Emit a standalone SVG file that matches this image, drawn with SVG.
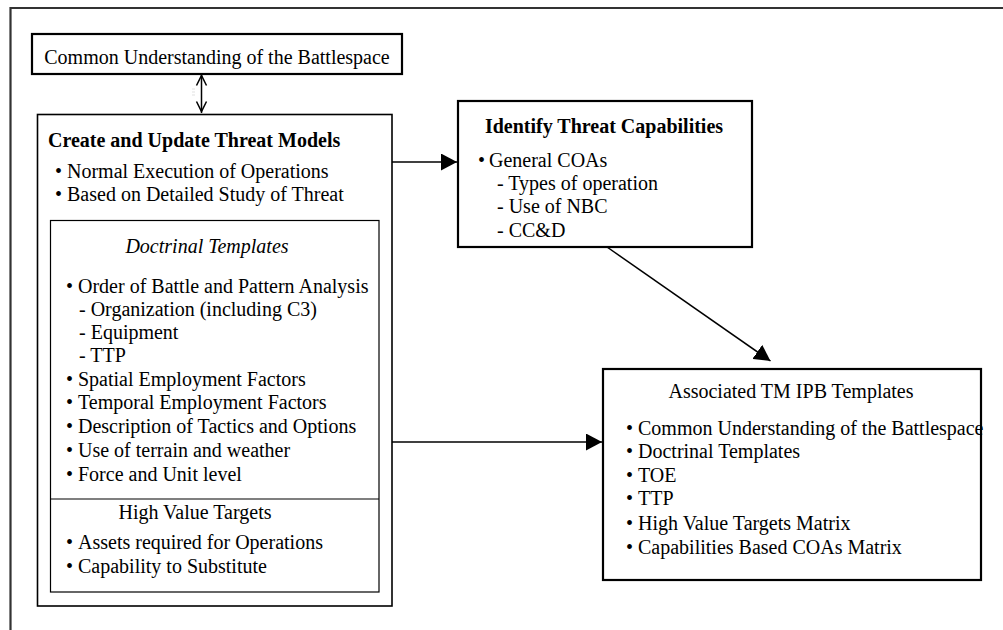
<svg xmlns="http://www.w3.org/2000/svg" width="1003" height="630" viewBox="0 0 1003 630">
<defs>
<style>
text{font-family:"Liberation Serif","Times New Roman",serif;font-size:20px;fill:#000}
.b{font-weight:bold}
.i{font-style:italic}
.m{text-anchor:middle}
.box{fill:#fff;stroke:#000}
.thick{stroke-width:2.2}
.med{stroke-width:1.6}
.thin{stroke-width:1.2}
.conn{stroke:#000;stroke-width:1.5;fill:none}
</style>
<marker id="ah" markerUnits="userSpaceOnUse" markerWidth="17" markerHeight="17" refX="16" refY="8.5" orient="auto">
<path d="M0,0 L16,8.5 L0,17 z" fill="#000"/>
</marker>
</defs>
<rect width="1003" height="630" fill="#fff"/>
<path d="M10.5,630 V8 H1003" fill="none" stroke="#333" stroke-width="2.2"/>

<g id="common">
<rect class="box thick" x="32" y="34" width="370" height="40"/>
<text x="217" y="64" class="m">Common Understanding of the Battlespace</text>
</g>

<g id="threat-models">
<rect class="box med" x="37.5" y="114.5" width="354.5" height="491.5"/>
<text x="48" y="147" class="b">Create and Update Threat Models</text>
<text x="55" y="178">•</text><text x="67" y="178">Normal Execution of Operations</text>
<text x="55" y="201">•</text><text x="67" y="201">Based on Detailed Study of Threat</text>
<g id="doctrinal-templates">
<rect class="box thin" x="50.5" y="220.5" width="328.5" height="371.5"/>
<text x="207" y="253" class="i m">Doctrinal Templates</text>
<text x="66" y="293">•</text><text x="78" y="293">Order of Battle and Pattern Analysis</text>
<text x="79" y="316">- Organization (including C3)</text>
<text x="79" y="339">- Equipment</text>
<text x="79" y="362">- TTP</text>
<text x="66" y="386">•</text><text x="78" y="386">Spatial Employment Factors</text>
<text x="66" y="409">•</text><text x="78" y="409">Temporal Employment Factors</text>
<text x="66" y="433">•</text><text x="78" y="433">Description of Tactics and Options</text>
<text x="66" y="457">•</text><text x="78" y="457">Use of terrain and weather</text>
<text x="66" y="481">•</text><text x="78" y="481">Force and Unit level</text>
<line x1="50.5" y1="499" x2="379" y2="499" stroke="#000" stroke-width="1.2"/>
<text x="195" y="519" class="m">High Value Targets</text>
<text x="66" y="549">•</text><text x="78" y="549">Assets required for Operations</text>
<text x="66" y="573">•</text><text x="78" y="573">Capability to Substitute</text>
</g>
</g>

<g id="identify">
<rect class="box thick" x="458" y="101" width="294" height="146"/>
<text x="604" y="133" class="b m">Identify Threat Capabilities</text>
<text x="478" y="167">•</text><text x="489" y="167">General COAs</text>
<text x="497" y="190">- Types of operation</text>
<text x="497" y="213">- Use of NBC</text>
<text x="497" y="237">- CC&amp;D</text>
</g>

<g id="associated">
<rect class="box thick" x="603" y="369" width="378" height="211"/>
<text x="791" y="398" class="m">Associated TM IPB Templates</text>
<text x="626" y="435">•</text><text x="638" y="435">Common Understanding of the Battlespace</text>
<text x="626" y="458">•</text><text x="638" y="458">Doctrinal Templates</text>
<text x="626" y="482">•</text><text x="638" y="482">TOE</text>
<text x="626" y="505">•</text><text x="638" y="505">TTP</text>
<text x="626" y="530">•</text><text x="638" y="530">High Value Targets Matrix</text>
<text x="626" y="554">•</text><text x="638" y="554">Capabilities Based COAs Matrix</text>
</g>

<g id="connectors">
<line class="conn" x1="201.5" y1="75" x2="201.5" y2="113"/>
<polyline class="conn" points="196.5,85.5 201.5,75.5 206.5,85.5"/>
<polyline class="conn" points="196.5,101.5 201.5,111.5 206.5,101.5"/>
<g stroke="#ccc" stroke-width="0.6">
<line x1="192" y1="89" x2="195" y2="89"/>
<line x1="192" y1="92" x2="195" y2="92"/>
<line x1="192" y1="95" x2="195" y2="95"/>
</g>
<line class="conn" x1="392" y1="162" x2="457" y2="162" marker-end="url(#ah)"/>
<line class="conn" x1="392" y1="442" x2="602" y2="442" marker-end="url(#ah)"/>
<line class="conn" x1="607" y1="247" x2="770.5" y2="361" marker-end="url(#ah)"/>
</g>
</svg>
